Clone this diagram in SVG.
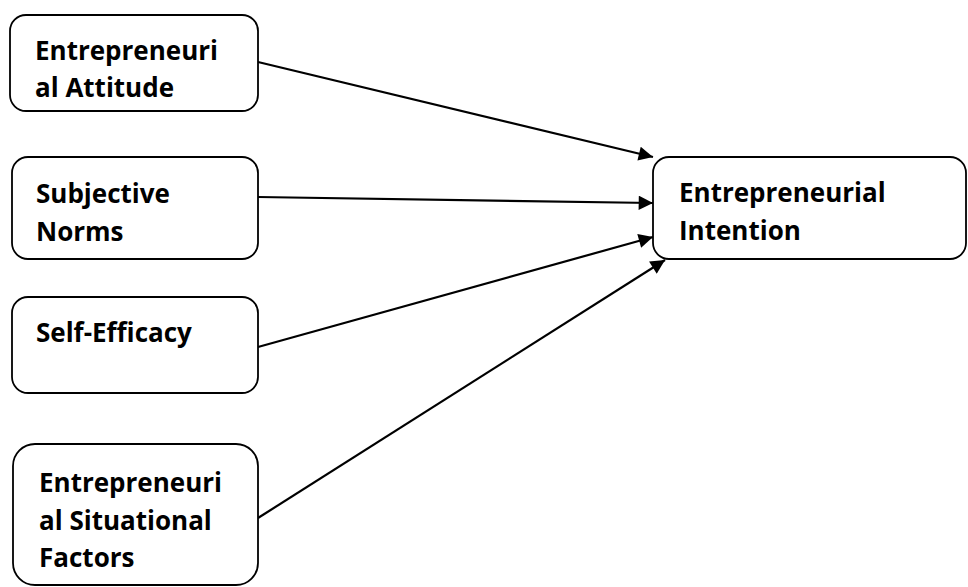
<svg xmlns="http://www.w3.org/2000/svg" width="968" height="587" viewBox="0 0 968 587">
  <style>
    .box { fill: #ffffff; stroke: #000000; stroke-width: 1.8; }
    .lbl { font-family: "Open Sans", "Liberation Sans", sans-serif; font-weight: bold; font-size: 26px; fill: #000000; }
    .edge { stroke: #000000; stroke-width: 2.2; fill: none; marker-end: url(#arrow); }
  </style>
  <defs>
    <marker id="arrow" viewBox="0 0 10 10" refX="10" refY="5" markerWidth="8.5" markerHeight="6.5" markerUnits="strokeWidth" orient="auto">
      <path d="M0,0 L10,5 L0,10 z" fill="#000000"/>
    </marker>
  </defs>
  <rect width="968" height="587" fill="#ffffff"/>

  <g id="connectors">
    <line class="edge" x1="258" y1="62" x2="653" y2="157"/>
    <line class="edge" x1="258" y1="197" x2="653" y2="203"/>
    <line class="edge" x1="258" y1="347" x2="653" y2="237"/>
    <line class="edge" x1="258" y1="518" x2="665" y2="260"/>
  </g>

  <g id="attitude">
    <rect class="box" x="10" y="15" width="248" height="96" rx="16"/>
    <text class="lbl" x="35" y="60">Entrepreneuri</text>
    <text class="lbl" x="35" y="97">al Attitude</text>
  </g>

  <g id="norms">
    <rect class="box" x="12" y="157" width="246" height="102" rx="16"/>
    <text class="lbl" x="36" y="203">Subjective</text>
    <text class="lbl" x="36" y="241">Norms</text>
  </g>

  <g id="efficacy">
    <rect class="box" x="12" y="297" width="246" height="96" rx="16"/>
    <text class="lbl" x="36" y="342">Self-Efficacy</text>
  </g>

  <g id="situational">
    <rect class="box" x="13" y="444" width="245" height="141" rx="22"/>
    <text class="lbl" x="39" y="492">Entrepreneuri</text>
    <text class="lbl" x="39" y="530">al Situational</text>
    <text class="lbl" x="39" y="567">Factors</text>
  </g>

  <g id="intention">
    <rect class="box" x="653" y="157" width="313" height="102" rx="16"/>
    <text class="lbl" x="679" y="202">Entrepreneurial</text>
    <text class="lbl" x="679" y="240">Intention</text>
  </g>
</svg>
